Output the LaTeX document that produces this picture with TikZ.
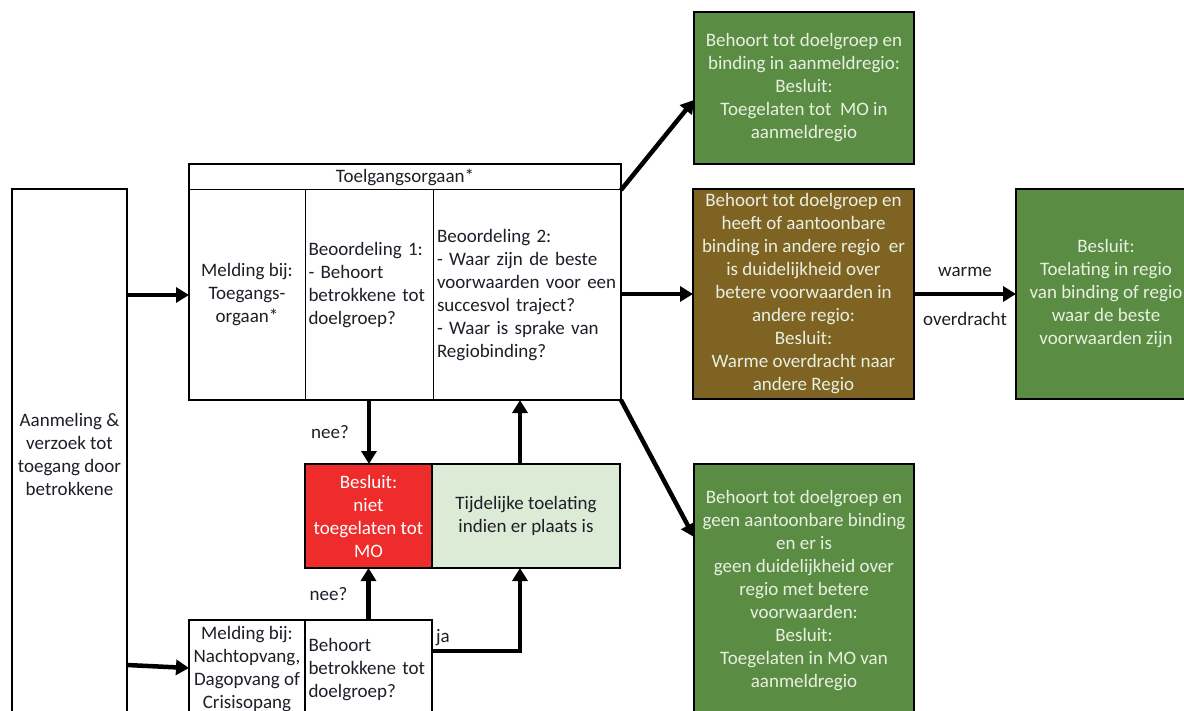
\documentclass[tikz,border=0pt]{standalone}
\usepackage{fontspec}
\setmainfont{Carlito}
\usetikzlibrary{arrows.meta,calc}
\definecolor{dgreen}{RGB}{91,140,68}
\definecolor{obrown}{RGB}{127,99,35}
\definecolor{ored}{RGB}{238,44,44}
\definecolor{lgreen}{RGB}{220,235,214}
\definecolor{paletext}{RGB}{232,240,225}
\definecolor{darktext}{RGB}{30,30,40}
\newcommand{\fsz}{\fontsize{19}{23}\selectfont}
\begin{document}
\begin{tikzpicture}[x=1pt,y=-1pt,
  every node/.style={inner sep=0pt, outer sep=0pt, font=\fsz, text=darktext},
  box/.style={draw=black, line width=2pt, align=center},
  cell/.style={draw=black, line width=1pt},
  green/.style={box, fill=dgreen, text=paletext},
  arr/.style={line width=4.5pt, -{Triangle[length=13pt,width=15pt]}},
  lbl/.style={text=darktext}]
\useasboundingbox (0,0) rectangle (1184,711);
\clip (0,0) rectangle (1184,711);
\fill[white] (0,0) rectangle (1184,711);

% left box
\node[box, minimum width=115pt, minimum height=531pt] (aan) at (69.5,454.5)
  {Aanmeling \&\\verzoek tot\\toegang door\\betrokkene};

% Toegangsorgaan table
\node[cell, minimum width=432pt, minimum height=26pt] (head) at (405,177) {Toelgangsorgaan*};
\node[cell, minimum width=116pt, minimum height=210pt, align=center] (c1) at (247,295)
  {Melding bij:\\Toegangs-\\orgaan*};
\node[cell, minimum width=128pt, minimum height=210pt, text width=121pt, align=left] (c2) at (369,295)
  {Beoordeling 1:\\- Behoort\\betrokkene tot\\doelgroep?\\\mbox{}};
\node[cell, minimum width=188pt, minimum height=210pt, text width=180pt, align=left] (c3) at (527,295)
  {Beoordeling 2:\\- Waar zijn de beste\\voorwaarden voor een\\succesvol traject?\\- Waar is sprake van\\Regiobinding?};
\node[draw=black, line width=2pt, minimum width=432pt, minimum height=236pt] (toel) at (405,282) {};

% right column boxes
\node[green, minimum width=220pt, minimum height=152pt] (g1) at (804,88)
  {Behoort tot doelgroep en\\binding in aanmeldregio:\\Besluit:\\Toegelaten tot \ MO in\\aanmeldregio};
\node[box, fill=obrown, text=paletext, minimum width=221pt, minimum height=210pt] (br) at (803.5,294)
  {Behoort tot doelgroep en\\heeft of aantoonbare\\binding in andere regio \ er\\is duidelijkheid over\\betere voorwaarden in\\andere regio:\\Besluit:\\Warme overdracht naar\\andere Regio};
\node[green, minimum width=180pt, minimum height=210pt] (g2) at (1106,294)
  {Besluit:\\Toelating in regio\\van binding of regio\\waar de beste\\voorwaarden zijn};
\node[green, minimum width=220pt, minimum height=254pt] (g3) at (804,591)
  {Behoort tot doelgroep en\\geen aantoonbare binding\\en er is\\geen duidelijkheid over\\regio met betere\\voorwaarden:\\Besluit:\\Toegelaten in MO van\\aanmeldregio};

% red / light green
\node[box, fill=ored, text=white, minimum width=127pt, minimum height=104pt] (red) at (368.5,516)
  {Besluit:\\niet\\toegelaten tot\\MO};
\node[box, fill=lgreen, minimum width=188pt, minimum height=104pt] (lg) at (526,516)
  {Tijdelijke toelating\\indien er plaats is};

% bottom table
\node[box, minimum width=116pt, minimum height=99pt] (b1) at (247,669.5)
  {Melding bij:\\Nachtopvang,\\Dagopvang of\\Crisisopang};
\node[box, minimum width=127pt, minimum height=99pt, text width=120pt, align=left] (b2) at (368.5,669.5)
  {Behoort\\betrokkene tot\\doelgroep?};

% connectors
\draw[arr] (aan.east |- c1.west) -- (c1.west);
\draw[arr] (c3.east |- br.west) -- (br.west);
\draw[arr] (head.south east) -- ([yshift=-12pt]g1.west);
\draw[arr] (toel.south east) -- ([yshift=54pt]g3.west);
\draw[arr] (br.east) -- (g2.west |- br.east)
  node[midway, yshift=22pt, lbl] {warme}
  node[midway, yshift=-25pt, lbl] {overdracht};
\draw[arr] (c2.south) -- (c2.south |- red.north)
  node[midway, xshift=-39pt, lbl] {nee?};
\draw[arr] ([xshift=-6pt]lg.north) -- ([xshift=-6pt]lg.north |- c3.south);
\draw[arr] (b2.north) -- (b2.north |- red.south)
  node[midway, xshift=-40pt, lbl] {nee?};
\draw[arr] ([yshift=18.5pt]b2.east) -| ([xshift=-6pt]lg.south)
  node[pos=0, anchor=south west, xshift=4pt, yshift=5pt, lbl] {ja};
\draw[arr] ($(aan.east |- b1.west)+(0,-4.5)$) -- ($(b1.west)+(0,-1.5)$);
\end{tikzpicture}
\end{document}
